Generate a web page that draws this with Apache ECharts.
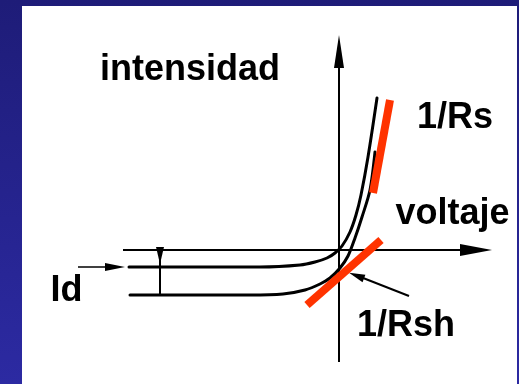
<!DOCTYPE html>
<html lang="es">
  <head>
    <meta charset="UTF-8" />
    <title>Curva I-V</title>
    <script src="https://cdn.jsdelivr.net/npm/echarts@6/dist/echarts.min.js"></script>
    <style>
      html, body { margin: 0; padding: 0; }
      #chart { width: 519px; height: 384px; }
    </style>
  </head>
  <body>
    <div id="chart"></div>
    <script>
      // curvas I-V (voltaje, intensidad), origen en el cruce de ejes
      var curvaOscura = [
        [-21.0, -1.7], [-7.9, -1.7], [-3.9, -1.5], [-2.4, -1.2], [-1.2, -0.8],
        [-0.4, -0.3], [0.3, 0.4], [1.1, 1.8], [1.7, 3.5], [2.2, 5.5],
        [2.9, 9.3], [3.8, 15.2]
      ];
      var curvaIluminada = [
        [-20.9, -4.5], [-8.9, -4.5], [-5.6, -4.4], [-3.4, -4.0], [-1.9, -3.4],
        [-0.9, -2.8], [0.1, -1.8], [0.9, -0.6], [1.6, 1.2], [2.3, 3.3],
        [3.1, 6.0], [3.6, 9.8]
      ];
      // tangentes
      var tangenteRs = [[3.4, 5.7], [5.1, 15.0]];
      var tangenteRsh = [[-3.2, -5.5], [4.2, 1.0]];
      // ejes
      var ejeVoltaje = [[-21.6, 0], [14.0, 0]];
      var ejeIntensidad = [[0, -11.2], [0, 19.0]];
      // flechas de anotacion
      var flechaId = [[-26.1, -1.7], [-22.0, -1.7]];
      var cotaId = [[-17.9, 0.1], [-17.9, -4.5]];
      var flechaRsh = [[7.0, -4.6], [1.9, -2.6]];
      // puntas de flecha: [x, y, ancho, largo, giro]
      var puntas = [
        [0, 19.85, 10, 33, 0],
        [13.7, 0, 12, 32, -90],
        [-22.4, -1.7, 8, 20, -90],
        [-17.9, -0.55, 8, 17, 180],
        [1.75, -2.57, 8, 16, 69]
      ];
      // textos
      var etiquetas = ["intensidad", "1/Rs", "voltaje", "Id", "1/Rsh"];
      var posEtiquetas = [[-14.9, 17.95], [11.6, 13.15], [11.35, 3.55], [-27.25, -4.15], [6.7, -7.65]];

      var chart = echarts.init(document.getElementById("chart"));

      function tramo(data, color, width) {
        return {
          type: "line",
          data: data,
          symbol: "none",
          silent: true,
          lineStyle: { color: color, width: width, cap: "butt" }
        };
      }

      var curva = function (data) {
        var s = tramo(data, "#000", 3);
        s.smooth = 0.3;
        s.lineStyle.cap = "round";
        return s;
      };

      var option = {
        animation: false,
        backgroundColor: {
          type: "linear", x: 0, y: 0, x2: 0, y2: 1,
          colorStops: [
            { offset: 0, color: "#1e1c78" },
            { offset: 1, color: "#2c2aa2" }
          ]
        },
        grid: {
          left: 22, right: 2, top: 6, bottom: 0,
          show: true, backgroundColor: "#fff", borderWidth: 0
        },
        xAxis: { type: "value", min: -31.7, max: 17.8, show: false },
        yAxis: { type: "value", min: -13.4, max: 24.4, show: false },
        series: [
          tramo(ejeVoltaje, "#000", 2),
          tramo(ejeIntensidad, "#000", 2),
          tramo(flechaId, "#000", 1.5),
          tramo(cotaId, "#000", 2),
          tramo(flechaRsh, "#000", 2),
          curva(curvaOscura),
          curva(curvaIluminada),
          tramo(tangenteRs, "#ff3300", 8),
          tramo(tangenteRsh, "#ff3300", 8),
          {
            type: "scatter",
            silent: true,
            data: puntas.map(function (p) {
              return {
                value: [p[0], p[1]],
                symbolSize: [p[2], p[3]],
                symbolRotate: p[4]
              };
            }),
            symbol: "triangle",
            itemStyle: { color: "#000", opacity: 1 }
          },
          {
            type: "scatter",
            silent: true,
            symbolSize: 0,
            itemStyle: { opacity: 1 },
            data: posEtiquetas.map(function (p, i) {
              return { value: p, name: etiquetas[i] };
            }),
            label: {
              show: true,
              position: "inside",
              formatter: "{b}",
              color: "#000",
              opacity: 1,
              fontFamily: "Liberation Sans, Arial, sans-serif",
              fontWeight: "bold",
              fontSize: 36
            }
          }
        ]
      };
      chart.setOption(option);
    </script>
  </body>
</html>
